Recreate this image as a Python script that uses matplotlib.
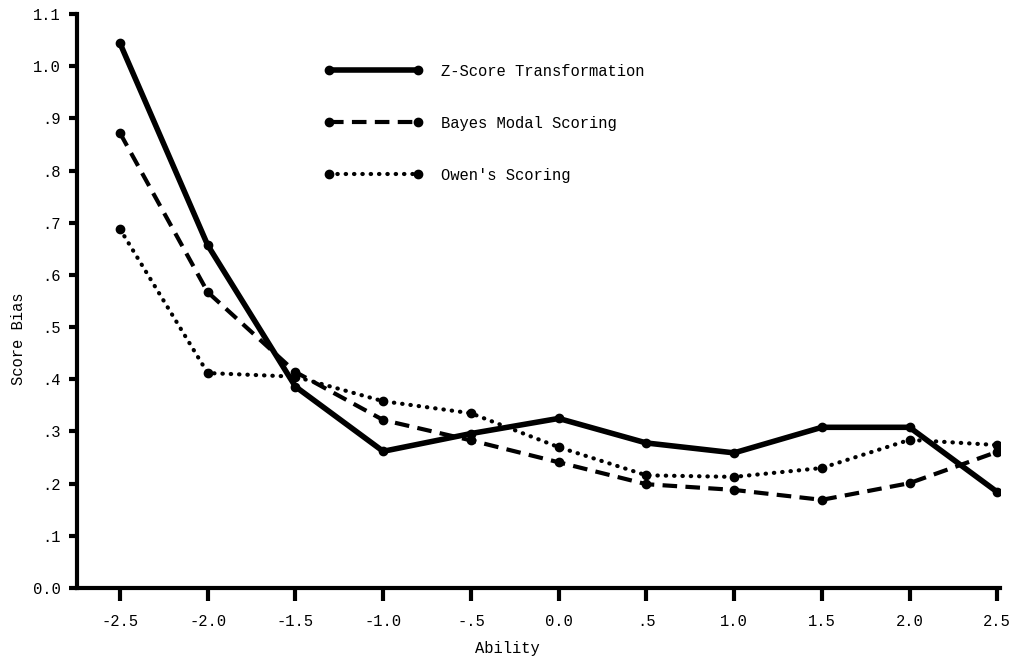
import matplotlib
matplotlib.use("Agg")
from matplotlib import pyplot as plt

ability = [-2.5, -2.0, -1.5, -1.0, -0.5, 0.0, 0.5, 1.0, 1.5, 2.0, 2.5]
zScore = [1.044, 0.657, 0.386, 0.262, 0.296, 0.325, 0.278, 0.259, 0.308, 0.308, 0.184]
bayesModal = [0.872, 0.567, 0.414, 0.322, 0.283, 0.241, 0.199, 0.188, 0.169, 0.201, 0.261]
owens = [0.688, 0.412, 0.405, 0.358, 0.335, 0.270, 0.216, 0.213, 0.230, 0.284, 0.274]

xTickLabels = ["-2.5", "-2.0", "-1.5", "-1.0", "-.5", "0.0", ".5", "1.0", "1.5", "2.0", "2.5"]
yTicks = [0.0, 0.1, 0.2, 0.3, 0.4, 0.5, 0.6, 0.7, 0.8, 0.9, 1.0, 1.1]
yTickLabels = ["0.0", ".1", ".2", ".3", ".4", ".5", ".6", ".7", ".8", ".9", "1.0", "1.1"]

plt.rcParams["font.family"] = ["Liberation Mono", "DejaVu Sans Mono"]
plt.rcParams["font.size"] = 11.2

fig = plt.figure(figsize=(10.35, 6.59), dpi=100)
ax = fig.add_axes([0.0744, 0.1077, 0.892, 0.871])

ax.plot(ability, zScore, color="black", linewidth=4.0, linestyle="-",
        marker="o", markersize=6, solid_capstyle="round",
        label="Z-Score Transformation")
ax.plot(ability, bayesModal, color="black", linewidth=3.0,
        linestyle=(0, (3.5, 2.0)), marker="o", markersize=6,
        label="Bayes Modal Scoring")
ax.plot(ability, owens, color="black", linewidth=3.0,
        linestyle=(0, (0.1, 1.9)), dash_capstyle="round", marker="o",
        markersize=6, label="Owen's Scoring")

ax.set_xlim(-2.745, 2.517)
ax.set_ylim(0.0, 1.1)
ax.set_xticks(ability, xTickLabels)
ax.set_yticks(yTicks, yTickLabels)

for side in ["top", "right"]:
    ax.spines[side].set_visible(False)
for side in ["left", "bottom"]:
    ax.spines[side].set_linewidth(3.0)

ax.tick_params(axis="x", direction="out", length=9, width=3, pad=10)
ax.tick_params(axis="y", direction="out", length=6, width=3, pad=6)

ax.set_xlabel("Ability")
ax.set_ylabel("Score Bias")
ax.xaxis.set_label_coords(0.466, -0.093)
ax.yaxis.set_label_coords(-0.055, 0.435)

ax.legend(loc="upper left", bbox_to_anchor=(0.253, 0.938), frameon=False,
          handlelength=6.3, handletextpad=1.2, labelspacing=2.38,
          numpoints=2, fontsize=11.2)

plt.savefig("out.png", dpi=100)
